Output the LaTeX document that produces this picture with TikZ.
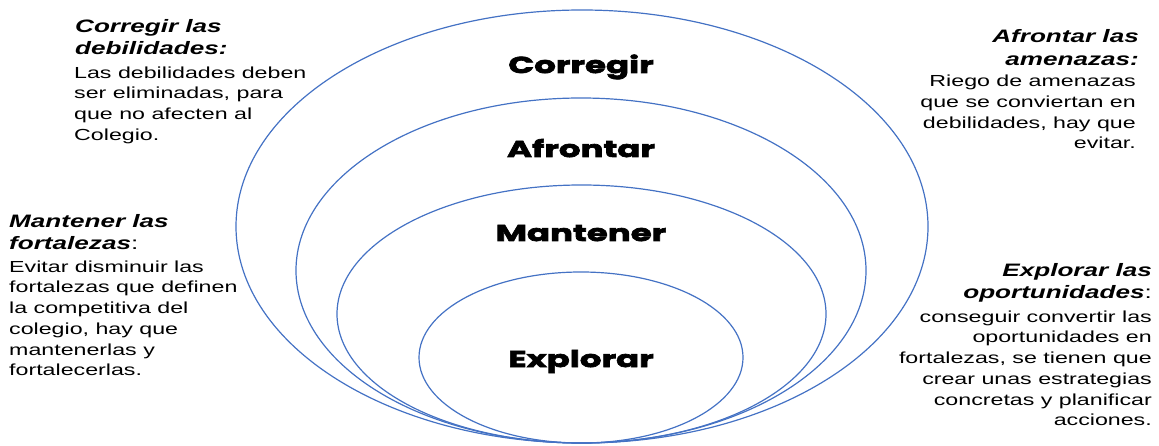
\documentclass[tikz,border=0pt]{standalone}
\usepackage{fontspec}
\usepackage{xcolor}
\newfontfamily\txtfont[FakeStretch=1.45]{Liberation Sans}
\newfontfamily\lblfont[FakeStretch=1.48,FakeBold=3]{Poppins}
\definecolor{ringblue}{HTML}{4472C4}

\tikzset{
  ring/.style={draw=ringblue, line width=1.2pt},
  lbl/.style={font=\lblfont\bfseries\fontsize{23}{23}\selectfont, anchor=base, inner sep=0pt},
  hd/.style={font=\txtfont\bfseries\itshape\fontsize{18}{22.5}\selectfont, inner sep=0pt},
  bd/.style={font=\txtfont\fontsize{16}{20.7}\selectfont, inner sep=0pt},
}

\begin{document}
\begin{tikzpicture}[x=1pt,y=-1pt]
    \useasboundingbox (0,0) rectangle (1159,446);
    % nested rings, all touching at the bottom
    \draw[ring] (582,226.5) ellipse [x radius=346pt, y radius=216.5pt];
    \draw[ring] (581,270.5) ellipse [x radius=285pt, y radius=172.5pt];
    \draw[ring] (581.5,314) ellipse [x radius=244.5pt, y radius=129pt];
    \draw[ring] (581,357.5) ellipse [x radius=162pt, y radius=85.5pt];
    \node[lbl] (corregir) at (581,73) {Corregir}; \node[lbl] (afrontar) at (581,157)
    {Afrontar}; \node[lbl] (mantener) at (581,241) {Mantener}; \node[lbl] (explorar)
    at (581,367) {Explorar};
    % left side
    \node[hd, align=left, anchor=north west] (hdCorr) at (75,19)
    {Corregir las\\debilidades:}; \node[bd, align=left, anchor=north west] (bdCorr)
    at (74,66.5) {Las debilidades deben\\ser eliminadas, para\\que no afecten al\\Colegio.};
    \node[hd, align=left, anchor=north west] (hdMant) at (9,214)
    {Mantener las\\fortalezas{\mdseries\upshape:}}; \node[bd, align=left, anchor=north west]
    (bdMant) at (9,260.5) {Evitar disminuir las\\fortalezas que definen\\la competitiva
    del\\colegio, hay que\\mantenerlas y\\fortalecerlas.};
    % right side
    \node[hd, align=right, anchor=north east] (hdAfro) at (1139,29.5)
    {Afrontar las\\amenazas:}; \node[bd, align=right, anchor=north east] (bdAfro)
    at (1136,75) {Riego de amenazas\\que se conviertan en\\debilidades, hay que\\evitar.};
    \node[hd, align=right, anchor=north east] (hdExpl) at (1152,263)
    {Explorar las\\oportunidades{\mdseries\upshape:}}; \node[bd, align=right, anchor=north east]
    (bdExpl) at (1152,310.5) {conseguir convertir las\\oportunidades en\\fortalezas, se
    tienen que\\crear unas estrategias\\concretas y planificar\\acciones.};
  \end{tikzpicture}
\end{document}
